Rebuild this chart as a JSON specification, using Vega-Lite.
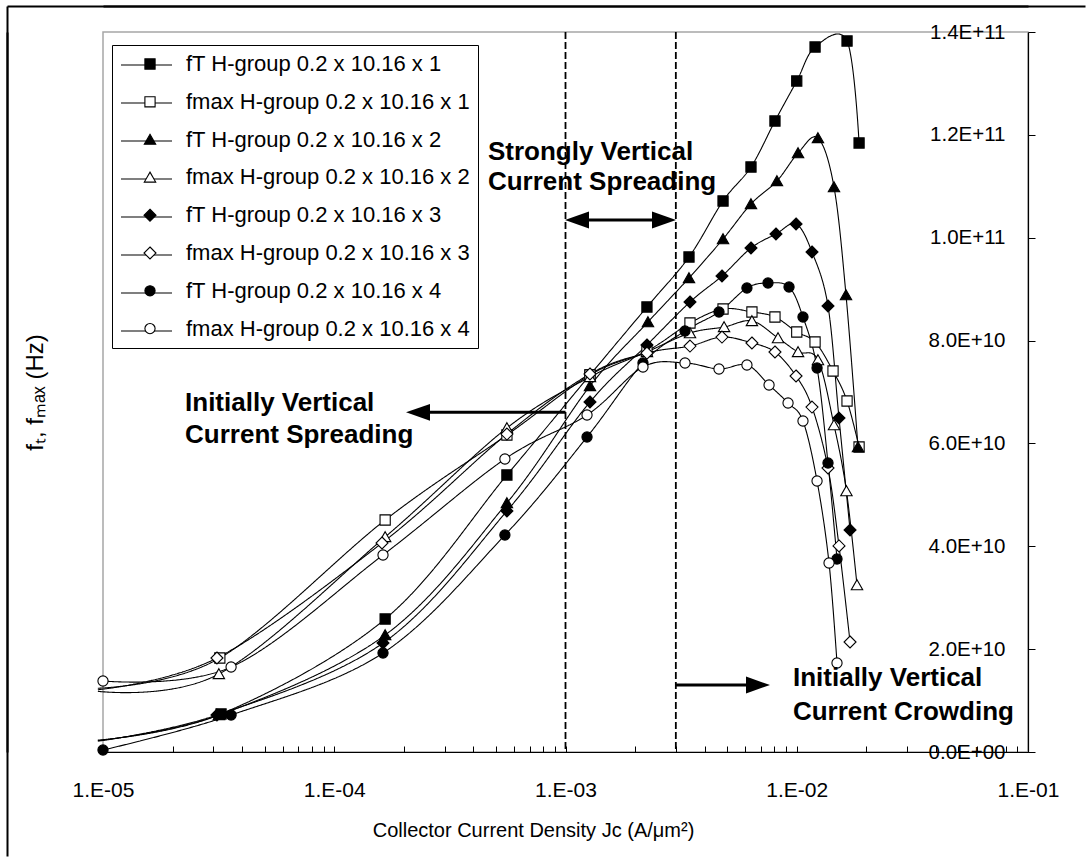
{
  "$schema": "https://vega.github.io/schema/vega-lite/v6.json",
  "autosize": {"type": "none"},
  "width": 925,
  "height": 720,
  "padding": {"left": 103, "top": 32, "right": 62, "bottom": 109},
  "background": "white",
  "config": {
    "font": "Liberation Sans",
    "view": {"stroke": "#a6a6a6", "strokeWidth": 1.5},
    "axis": {"labelColor": "black", "titleColor": "black", "domainColor": "black", "tickColor": "black", "grid": false, "titleFontWeight": "normal"}
  },
  "datasets": {
    "curves": [
      {"series": "fT H-group 0.2 x 10.16 x 1", "x": 9.5e-6, "y": 2.3e9},
      {"series": "fT H-group 0.2 x 10.16 x 1", "x": 3.24e-5, "y": 7.39e9},
      {"series": "fT H-group 0.2 x 10.16 x 1", "x": 1.66e-4, "y": 2.586e10},
      {"series": "fT H-group 0.2 x 10.16 x 1", "x": 5.58e-4, "y": 5.386e10},
      {"series": "fT H-group 0.2 x 10.16 x 1", "x": 1.276e-3, "y": 7.331e10},
      {"series": "fT H-group 0.2 x 10.16 x 1", "x": 2.25e-3, "y": 8.653e10},
      {"series": "fT H-group 0.2 x 10.16 x 1", "x": 3.42e-3, "y": 9.625e10},
      {"series": "fT H-group 0.2 x 10.16 x 1", "x": 4.80e-3, "y": 1.0714e11},
      {"series": "fT H-group 0.2 x 10.16 x 1", "x": 6.34e-3, "y": 1.1375e11},
      {"series": "fT H-group 0.2 x 10.16 x 1", "x": 8.05e-3, "y": 1.2269e11},
      {"series": "fT H-group 0.2 x 10.16 x 1", "x": 1.00e-2, "y": 1.3047e11},
      {"series": "fT H-group 0.2 x 10.16 x 1", "x": 1.20e-2, "y": 1.3708e11},
      {"series": "fT H-group 0.2 x 10.16 x 1", "x": 1.65e-2, "y": 1.3825e11},
      {"series": "fT H-group 0.2 x 10.16 x 1", "x": 1.86e-2, "y": 1.1842e11},

      {"series": "fmax H-group 0.2 x 10.16 x 1", "x": 9.5e-6, "y": 1.24e10},
      {"series": "fmax H-group 0.2 x 10.16 x 1", "x": 3.20e-5, "y": 1.828e10},
      {"series": "fmax H-group 0.2 x 10.16 x 1", "x": 1.66e-4, "y": 4.511e10},
      {"series": "fmax H-group 0.2 x 10.16 x 1", "x": 5.58e-4, "y": 6.164e10},
      {"series": "fmax H-group 0.2 x 10.16 x 1", "x": 1.276e-3, "y": 7.331e10},
      {"series": "fmax H-group 0.2 x 10.16 x 1", "x": 2.25e-3, "y": 7.797e10},
      {"series": "fmax H-group 0.2 x 10.16 x 1", "x": 3.454e-3, "y": 8.342e10},
      {"series": "fmax H-group 0.2 x 10.16 x 1", "x": 4.80e-3, "y": 8.614e10},
      {"series": "fmax H-group 0.2 x 10.16 x 1", "x": 6.40e-3, "y": 8.556e10},
      {"series": "fmax H-group 0.2 x 10.16 x 1", "x": 8.05e-3, "y": 8.458e10},
      {"series": "fmax H-group 0.2 x 10.16 x 1", "x": 1.00e-2, "y": 8.167e10},
      {"series": "fmax H-group 0.2 x 10.16 x 1", "x": 1.20e-2, "y": 7.972e10},
      {"series": "fmax H-group 0.2 x 10.16 x 1", "x": 1.435e-2, "y": 7.408e10},
      {"series": "fmax H-group 0.2 x 10.16 x 1", "x": 1.65e-2, "y": 6.825e10},
      {"series": "fmax H-group 0.2 x 10.16 x 1", "x": 1.86e-2, "y": 5.931e10},

      {"series": "fT H-group 0.2 x 10.16 x 2", "x": 9.5e-6, "y": 2.2e9},
      {"series": "fT H-group 0.2 x 10.16 x 2", "x": 3.17e-5, "y": 7.19e9},
      {"series": "fT H-group 0.2 x 10.16 x 2", "x": 1.66e-4, "y": 2.275e10},
      {"series": "fT H-group 0.2 x 10.16 x 2", "x": 5.58e-4, "y": 4.842e10},
      {"series": "fT H-group 0.2 x 10.16 x 2", "x": 1.276e-3, "y": 7.117e10},
      {"series": "fT H-group 0.2 x 10.16 x 2", "x": 2.273e-3, "y": 8.361e10},
      {"series": "fT H-group 0.2 x 10.16 x 2", "x": 3.42e-3, "y": 9.217e10},
      {"series": "fT H-group 0.2 x 10.16 x 2", "x": 4.80e-3, "y": 9.975e10},
      {"series": "fT H-group 0.2 x 10.16 x 2", "x": 6.34e-3, "y": 1.0656e11},
      {"series": "fT H-group 0.2 x 10.16 x 2", "x": 8.21e-3, "y": 1.1103e11},
      {"series": "fT H-group 0.2 x 10.16 x 2", "x": 1.013e-2, "y": 1.1647e11},
      {"series": "fT H-group 0.2 x 10.16 x 2", "x": 1.235e-2, "y": 1.1939e11},
      {"series": "fT H-group 0.2 x 10.16 x 2", "x": 1.449e-2, "y": 1.0986e11},
      {"series": "fT H-group 0.2 x 10.16 x 2", "x": 1.633e-2, "y": 8.886e10},
      {"series": "fT H-group 0.2 x 10.16 x 2", "x": 1.840e-2, "y": 5.931e10},

      {"series": "fmax H-group 0.2 x 10.16 x 2", "x": 9.5e-6, "y": 1.18e10},
      {"series": "fmax H-group 0.2 x 10.16 x 2", "x": 3.17e-5, "y": 1.517e10},
      {"series": "fmax H-group 0.2 x 10.16 x 2", "x": 1.66e-4, "y": 4.181e10},
      {"series": "fmax H-group 0.2 x 10.16 x 2", "x": 5.58e-4, "y": 6.3e10},
      {"series": "fmax H-group 0.2 x 10.16 x 2", "x": 1.276e-3, "y": 7.292e10},
      {"series": "fmax H-group 0.2 x 10.16 x 2", "x": 2.25e-3, "y": 7.778e10},
      {"series": "fmax H-group 0.2 x 10.16 x 2", "x": 3.454e-3, "y": 8.147e10},
      {"series": "fmax H-group 0.2 x 10.16 x 2", "x": 4.85e-3, "y": 8.264e10},
      {"series": "fmax H-group 0.2 x 10.16 x 2", "x": 6.40e-3, "y": 8.381e10},
      {"series": "fmax H-group 0.2 x 10.16 x 2", "x": 8.30e-3, "y": 8.05e10},
      {"series": "fmax H-group 0.2 x 10.16 x 2", "x": 1.013e-2, "y": 7.778e10},
      {"series": "fmax H-group 0.2 x 10.16 x 2", "x": 1.235e-2, "y": 7.622e10},
      {"series": "fmax H-group 0.2 x 10.16 x 2", "x": 1.449e-2, "y": 6.358e10},
      {"series": "fmax H-group 0.2 x 10.16 x 2", "x": 1.64e-2, "y": 5.075e10},
      {"series": "fmax H-group 0.2 x 10.16 x 2", "x": 1.822e-2, "y": 3.247e10},

      {"series": "fT H-group 0.2 x 10.16 x 3", "x": 9.5e-6, "y": 2.1e9},
      {"series": "fT H-group 0.2 x 10.16 x 3", "x": 3.11e-5, "y": 7.19e9},
      {"series": "fT H-group 0.2 x 10.16 x 3", "x": 1.625e-4, "y": 2.119e10},
      {"series": "fT H-group 0.2 x 10.16 x 3", "x": 5.58e-4, "y": 4.686e10},
      {"series": "fT H-group 0.2 x 10.16 x 3", "x": 1.276e-3, "y": 6.806e10},
      {"series": "fT H-group 0.2 x 10.16 x 3", "x": 2.25e-3, "y": 7.914e10},
      {"series": "fT H-group 0.2 x 10.16 x 3", "x": 3.454e-3, "y": 8.75e10},
      {"series": "fT H-group 0.2 x 10.16 x 3", "x": 4.75e-3, "y": 9.256e10},
      {"series": "fT H-group 0.2 x 10.16 x 3", "x": 6.34e-3, "y": 9.8e10},
      {"series": "fT H-group 0.2 x 10.16 x 3", "x": 8.13e-3, "y": 1.0072e11},
      {"series": "fT H-group 0.2 x 10.16 x 3", "x": 9.93e-3, "y": 1.0267e11},
      {"series": "fT H-group 0.2 x 10.16 x 3", "x": 1.164e-2, "y": 9.722e10},
      {"series": "fT H-group 0.2 x 10.16 x 3", "x": 1.365e-2, "y": 8.672e10},
      {"series": "fT H-group 0.2 x 10.16 x 3", "x": 1.523e-2, "y": 6.494e10},
      {"series": "fT H-group 0.2 x 10.16 x 3", "x": 1.70e-2, "y": 4.317e10},

      {"series": "fmax H-group 0.2 x 10.16 x 3", "x": 9.5e-6, "y": 1.21e10},
      {"series": "fmax H-group 0.2 x 10.16 x 3", "x": 3.11e-5, "y": 1.828e10},
      {"series": "fmax H-group 0.2 x 10.16 x 3", "x": 1.609e-4, "y": 4.064e10},
      {"series": "fmax H-group 0.2 x 10.16 x 3", "x": 5.58e-4, "y": 6.183e10},
      {"series": "fmax H-group 0.2 x 10.16 x 3", "x": 1.276e-3, "y": 7.35e10},
      {"series": "fmax H-group 0.2 x 10.16 x 3", "x": 2.25e-3, "y": 7.758e10},
      {"series": "fmax H-group 0.2 x 10.16 x 3", "x": 3.454e-3, "y": 7.894e10},
      {"series": "fmax H-group 0.2 x 10.16 x 3", "x": 4.75e-3, "y": 8.069e10},
      {"series": "fmax H-group 0.2 x 10.16 x 3", "x": 6.40e-3, "y": 7.953e10},
      {"series": "fmax H-group 0.2 x 10.16 x 3", "x": 8.05e-3, "y": 7.778e10},
      {"series": "fmax H-group 0.2 x 10.16 x 3", "x": 9.93e-3, "y": 7.311e10},
      {"series": "fmax H-group 0.2 x 10.16 x 3", "x": 1.164e-2, "y": 6.708e10},
      {"series": "fmax H-group 0.2 x 10.16 x 3", "x": 1.365e-2, "y": 5.522e10},
      {"series": "fmax H-group 0.2 x 10.16 x 3", "x": 1.523e-2, "y": 4.006e10},
      {"series": "fmax H-group 0.2 x 10.16 x 3", "x": 1.70e-2, "y": 2.139e10},

      {"series": "fT H-group 0.2 x 10.16 x 4", "x": 1e-5, "y": 3.9e8},
      {"series": "fT H-group 0.2 x 10.16 x 4", "x": 3.58e-5, "y": 7.19e9},
      {"series": "fT H-group 0.2 x 10.16 x 4", "x": 1.625e-4, "y": 1.925e10},
      {"series": "fT H-group 0.2 x 10.16 x 4", "x": 5.47e-4, "y": 4.219e10},
      {"series": "fT H-group 0.2 x 10.16 x 4", "x": 1.239e-3, "y": 6.125e10},
      {"series": "fT H-group 0.2 x 10.16 x 4", "x": 2.163e-3, "y": 7.564e10},
      {"series": "fT H-group 0.2 x 10.16 x 4", "x": 3.287e-3, "y": 8.186e10},
      {"series": "fT H-group 0.2 x 10.16 x 4", "x": 4.61e-3, "y": 8.556e10},
      {"series": "fT H-group 0.2 x 10.16 x 4", "x": 6.09e-3, "y": 9.022e10},
      {"series": "fT H-group 0.2 x 10.16 x 4", "x": 7.51e-3, "y": 9.119e10},
      {"series": "fT H-group 0.2 x 10.16 x 4", "x": 9.26e-3, "y": 9.042e10},
      {"series": "fT H-group 0.2 x 10.16 x 4", "x": 1.064e-2, "y": 8.458e10},
      {"series": "fT H-group 0.2 x 10.16 x 4", "x": 1.224e-2, "y": 7.467e10},
      {"series": "fT H-group 0.2 x 10.16 x 4", "x": 1.365e-2, "y": 5.619e10},
      {"series": "fT H-group 0.2 x 10.16 x 4", "x": 1.493e-2, "y": 3.753e10},

      {"series": "fmax H-group 0.2 x 10.16 x 4", "x": 1e-5, "y": 1.381e10},
      {"series": "fmax H-group 0.2 x 10.16 x 4", "x": 3.58e-5, "y": 1.653e10},
      {"series": "fmax H-group 0.2 x 10.16 x 4", "x": 1.625e-4, "y": 3.831e10},
      {"series": "fmax H-group 0.2 x 10.16 x 4", "x": 5.47e-4, "y": 5.697e10},
      {"series": "fmax H-group 0.2 x 10.16 x 4", "x": 1.239e-3, "y": 6.553e10},
      {"series": "fmax H-group 0.2 x 10.16 x 4", "x": 2.163e-3, "y": 7.486e10},
      {"series": "fmax H-group 0.2 x 10.16 x 4", "x": 3.287e-3, "y": 7.564e10},
      {"series": "fmax H-group 0.2 x 10.16 x 4", "x": 4.61e-3, "y": 7.447e10},
      {"series": "fmax H-group 0.2 x 10.16 x 4", "x": 6.09e-3, "y": 7.525e10},
      {"series": "fmax H-group 0.2 x 10.16 x 4", "x": 7.59e-3, "y": 7.136e10},
      {"series": "fmax H-group 0.2 x 10.16 x 4", "x": 9.17e-3, "y": 6.786e10},
      {"series": "fmax H-group 0.2 x 10.16 x 4", "x": 1.064e-2, "y": 6.436e10},
      {"series": "fmax H-group 0.2 x 10.16 x 4", "x": 1.224e-2, "y": 5.269e10},
      {"series": "fmax H-group 0.2 x 10.16 x 4", "x": 1.379e-2, "y": 3.675e10},
      {"series": "fmax H-group 0.2 x 10.16 x 4", "x": 1.493e-2, "y": 1.731e10}
    ],
    "vlines": [{"x": 0.001}, {"x": 0.003}],
    "arrows": [
      {"x": 0.001, "x2": 2.4e-4, "y": 6.605e10},
      {"x": 1.121e-3, "x2": 2.667e-3, "y": 1.0344e11},
      {"x": 0.003, "x2": 6.8e-3, "y": 1.303e10}
    ],
    "heads": [
      {"x": 2.303e-4, "y": 6.605e10, "dir": "left"},
      {"x": 1.121e-3, "y": 1.0344e11, "dir": "left"},
      {"x": 2.667e-3, "y": 1.0344e11, "dir": "right"},
      {"x": 6.8e-3, "y": 1.303e10, "dir": "right"}
    ],
    "notes": [
      {"x": 4.62e-4, "y": 1.1667e11, "text": "Strongly Vertical"},
      {"x": 4.62e-4, "y": 1.1083e11, "text": "Current Spreading"},
      {"x": 2.263e-5, "y": 6.786e10, "text": "Initially Vertical"},
      {"x": 2.263e-5, "y": 6.164e10, "text": "Current Spreading"},
      {"x": 9.63e-3, "y": 1.439e10, "text": "Initially Vertical"},
      {"x": 9.63e-3, "y": 0.778e10, "text": "Current Crowding"}
    ]
  },
  "layer": [
    {
      "data": {"name": "curves"},
      "mark": {"type": "line", "interpolate": "cardinal", "stroke": "black", "strokeWidth": 1.1},
      "encoding": {
        "x": {"field": "x", "type": "quantitative", "scale": {"type": "log", "domain": [1e-5, 0.1], "nice": false},
          "axis": {
            "orient": "bottom",
            "title": "Collector Current Density Jc (A/μm²)",
            "titleFontSize": 20, "titlePadding": 20, "titleX": 430,
            "values": [1e-5, 2e-5, 3e-5, 4e-5, 5e-5, 6e-5, 7e-5, 8e-5, 9e-5, 1e-4, 2e-4, 3e-4, 4e-4, 5e-4, 6e-4, 7e-4, 8e-4, 9e-4, 1e-3, 2e-3, 3e-3, 4e-3, 5e-3, 6e-3, 7e-3, 8e-3, 9e-3, 1e-2, 2e-2, 3e-2, 4e-2, 5e-2, 6e-2, 7e-2, 8e-2, 9e-2, 1e-1],
            "labelExpr": "abs(log(datum.value)/LN10 - round(log(datum.value)/LN10)) < 0.001 ? '1.E-0' + (-round(log(datum.value)/LN10)) : ''",
            "labelFlush": false, "labelOverlap": false, "labelFontSize": 21, "labelPadding": 33,
            "tickSize": -6, "domainWidth": 1.2
          }
        },
        "y": {"field": "y", "type": "quantitative", "scale": {"domain": [0, 1.4e11], "nice": false, "zero": false},
          "axis": {
            "orient": "right", "title": null,
            "values": [0, 2e10, 4e10, 6e10, 8e10, 1e11, 1.2e11, 1.4e11],
            "labelExpr": "datum.value == 0 ? '0.0E+00' : upper(format(datum.value, '.1e'))",
            "tickSize": 7, "labelAlign": "right", "labelBaseline": "middle", "labelPadding": -30,
            "labelFontSize": 20.5, "labelFlush": false, "labelOverlap": false, "domainWidth": 1.2
          }
        },
        "detail": {"field": "series"},
        "strokeDash": {"field": "series", "type": "nominal",
          "scale": {
            "domain": ["fmax H-group 0.2 x 10.16 x 4", "fT H-group 0.2 x 10.16 x 4", "fmax H-group 0.2 x 10.16 x 3", "fT H-group 0.2 x 10.16 x 3", "fmax H-group 0.2 x 10.16 x 2", "fT H-group 0.2 x 10.16 x 2", "fmax H-group 0.2 x 10.16 x 1", "fT H-group 0.2 x 10.16 x 1"],
            "range": [[1, 0], [1, 0], [1, 0], [1, 0], [1, 0], [1, 0], [1, 0], [1, 0]]
          },
          "legend": {
            "title": null, "orient": "none", "legendX": 9, "legendY": -1.5, "padding": 8,
            "strokeColor": null, "fillColor": null, "labelFontSize": 22, "labelExpr": "''", "labelLimit": 500,
            "symbolType": "stroke", "symbolSize": 2601, "symbolStrokeWidth": 1.1, "symbolStrokeColor": "black", "symbolOffset": 0, "labelOffset": 10, "rowPadding": -0.5
          }
        }
      }
    },
    {
      "data": {"name": "curves"},
      "transform": [{"filter": "datum.x >= 1e-5"}],
      "mark": {"type": "point", "size": 144, "strokeWidth": 1.1, "opacity": 1},
      "encoding": {
        "x": {"field": "x", "type": "quantitative", "scale": {"type": "log", "domain": [1e-5, 0.1], "nice": false}, "axis": null},
        "y": {"field": "y", "type": "quantitative", "scale": {"domain": [0, 1.4e11], "nice": false, "zero": false}, "axis": null},
        "shape": {"field": "series", "type": "nominal",
          "scale": {
            "domain": ["fT H-group 0.2 x 10.16 x 1", "fmax H-group 0.2 x 10.16 x 1", "fT H-group 0.2 x 10.16 x 2", "fmax H-group 0.2 x 10.16 x 2", "fT H-group 0.2 x 10.16 x 3", "fmax H-group 0.2 x 10.16 x 3", "fT H-group 0.2 x 10.16 x 4", "fmax H-group 0.2 x 10.16 x 4"],
            "range": ["M-0.85,-0.85L0.85,-0.85L0.85,0.85L-0.85,0.85Z", "M-0.85,-0.85L0.85,-0.85L0.85,0.85L-0.85,0.85Z", "M0,-0.88L0.95,0.78L-0.95,0.78Z", "M0,-0.88L0.95,0.78L-0.95,0.78Z", "M0,-1L1,0L0,1L-1,0Z", "M0,-1L1,0L0,1L-1,0Z", "M0.85,0A0.85,0.85,0,1,1,-0.85,0A0.85,0.85,0,1,1,0.85,0Z", "M0.85,0A0.85,0.85,0,1,1,-0.85,0A0.85,0.85,0,1,1,0.85,0Z"]
          },
          "legend": {
            "title": null, "orient": "none", "legendX": 9, "legendY": 13, "padding": 8,
            "strokeColor": "black", "fillColor": null, "labelFontSize": 22, "labelColor": "black", "labelLimit": 500,
            "symbolSize": 144, "symbolStrokeWidth": 1.1, "symbolStrokeColor": "black", "symbolOffset": 19, "labelOffset": 25, "rowPadding": 15.8
          }
        },
        "fill": {"field": "series", "type": "nominal",
          "scale": {
            "domain": ["fT H-group 0.2 x 10.16 x 1", "fmax H-group 0.2 x 10.16 x 1", "fT H-group 0.2 x 10.16 x 2", "fmax H-group 0.2 x 10.16 x 2", "fT H-group 0.2 x 10.16 x 3", "fmax H-group 0.2 x 10.16 x 3", "fT H-group 0.2 x 10.16 x 4", "fmax H-group 0.2 x 10.16 x 4"],
            "range": ["black", "white", "black", "white", "black", "white", "black", "white"]
          },
          "legend": {
            "title": null, "orient": "none", "legendX": 9, "legendY": 13, "padding": 8,
            "strokeColor": "black", "fillColor": null, "labelFontSize": 22, "labelColor": "black", "labelLimit": 500,
            "symbolSize": 144, "symbolStrokeWidth": 1.1, "symbolStrokeColor": "black", "symbolOffset": 19, "labelOffset": 25, "rowPadding": 15.8
          }
        },
        "stroke": {"field": "series", "type": "nominal",
          "scale": {
            "domain": ["fT H-group 0.2 x 10.16 x 1", "fmax H-group 0.2 x 10.16 x 1", "fT H-group 0.2 x 10.16 x 2", "fmax H-group 0.2 x 10.16 x 2", "fT H-group 0.2 x 10.16 x 3", "fmax H-group 0.2 x 10.16 x 3", "fT H-group 0.2 x 10.16 x 4", "fmax H-group 0.2 x 10.16 x 4"],
            "range": ["black", "black", "black", "black", "black", "black", "black", "black"]
          },
          "legend": {
            "title": null, "orient": "none", "legendX": 9, "legendY": 13, "padding": 8,
            "strokeColor": "black", "fillColor": null, "labelFontSize": 22, "labelColor": "black", "labelLimit": 500,
            "symbolSize": 144, "symbolStrokeWidth": 1.1, "symbolStrokeColor": "black", "symbolOffset": 19, "labelOffset": 25, "rowPadding": 15.8
          }
        }
      }
    },
    {
      "data": {"name": "notes"},
      "mark": {"type": "text", "align": "left", "baseline": "middle", "fontSize": 26, "fontWeight": "bold", "color": "black"},
      "encoding": {
        "x": {"field": "x", "type": "quantitative", "scale": {"type": "log", "domain": [1e-5, 0.1], "nice": false},
          "axis": {"orient": "top", "offset": 26, "labels": false, "title": null, "domainWidth": 2, "domainColor": "black",
            "values": [1e-5], "ticks": true, "tickOffset": -96, "tickSize": -850, "tickWidth": 2, "tickColor": "black"}
        },
        "y": {"field": "y", "type": "quantitative", "scale": {"domain": [0, 1.4e11], "nice": false, "zero": false},
          "axis": {"orient": "left", "offset": 96, "labels": false, "domainWidth": 2, "domainColor": "black",
            "values": [1.4e11], "ticks": true, "tickOffset": -26, "tickSize": -1078, "tickWidth": 2, "tickColor": "black",
            "title": "fₜ, fₘₐₓ (Hz)", "titleFontSize": 24, "titleX": 28, "titleY": 360, "titleAngle": -90, "titleAlign": "center", "titleBaseline": "middle"}
        },
        "text": {"field": "text"}
      }
    },
    {
      "data": {"name": "vlines"},
      "mark": {"type": "rule", "stroke": "black", "strokeWidth": 1.8, "strokeDash": [7, 3]},
      "encoding": {
        "x": {"field": "x", "type": "quantitative", "scale": {"type": "log", "domain": [1e-5, 0.1], "nice": false}, "axis": null}
      }
    },
    {
      "data": {"name": "arrows"},
      "mark": {"type": "rule", "stroke": "black", "strokeWidth": 3},
      "encoding": {
        "x": {"field": "x", "type": "quantitative", "scale": {"type": "log", "domain": [1e-5, 0.1], "nice": false}, "axis": null},
        "x2": {"field": "x2"},
        "y": {"field": "y", "type": "quantitative", "scale": {"domain": [0, 1.4e11], "nice": false, "zero": false}, "axis": null}
      }
    },
    {
      "data": {"name": "heads"},
      "transform": [{"filter": "datum.dir == 'left'"}],
      "mark": {"type": "point", "shape": "M-1,0L1,-0.7L1,0.7Z", "size": 576, "filled": true, "fill": "black", "stroke": null, "opacity": 1},
      "encoding": {
        "x": {"field": "x", "type": "quantitative", "scale": {"type": "log", "domain": [1e-5, 0.1], "nice": false}, "axis": null},
        "y": {"field": "y", "type": "quantitative", "scale": {"domain": [0, 1.4e11], "nice": false, "zero": false}, "axis": null}
      }
    },
    {
      "data": {"name": "heads"},
      "transform": [{"filter": "datum.dir == 'right'"}],
      "mark": {"type": "point", "shape": "M1,0L-1,-0.7L-1,0.7Z", "size": 576, "filled": true, "fill": "black", "stroke": null, "opacity": 1},
      "encoding": {
        "x": {"field": "x", "type": "quantitative", "scale": {"type": "log", "domain": [1e-5, 0.1], "nice": false}, "axis": null},
        "y": {"field": "y", "type": "quantitative", "scale": {"domain": [0, 1.4e11], "nice": false, "zero": false}, "axis": null}
      }
    }
  ]
}
